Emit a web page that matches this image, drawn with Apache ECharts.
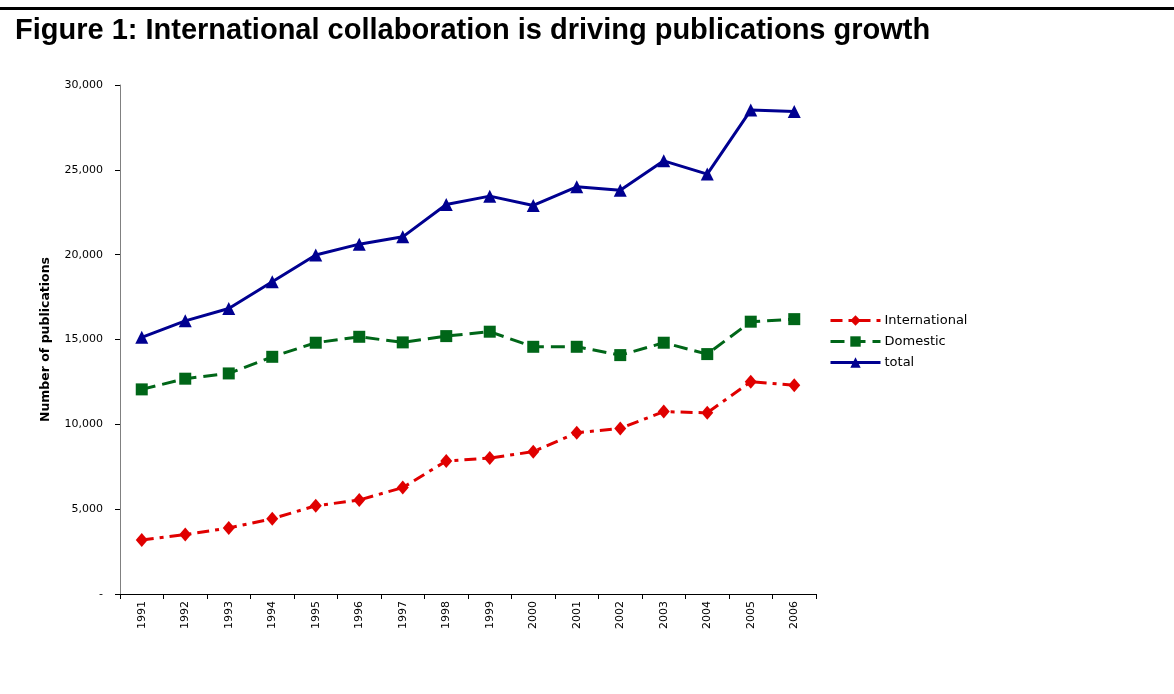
<!DOCTYPE html>
<html>
<head>
<meta charset="utf-8">
<script src="https://cdn.jsdelivr.net/npm/echarts@6/dist/echarts.min.js"></script>
<style>
html,body{margin:0;padding:0;background:#fff;}
#chart{width:1174px;height:694px;}
</style>
</head>
<body>
<div id="chart"></div>
<script>
const years = ['1991','1992','1993','1994','1995','1996','1997','1998','1999','2000','2001','2002','2003','2004','2005','2006'];
const international = [3180, 3500, 3890, 4440, 5200, 5540, 6270, 7840, 8010, 8390, 9500, 9760, 10750, 10680, 12510, 12300];
const domestic = [12060, 12690, 13000, 13980, 14810, 15160, 14830, 15200, 15460, 14570, 14570, 14080, 14810, 14140, 16050, 16200];
const total = [15130, 16100, 16830, 18400, 19980, 20620, 21050, 22960, 23450, 22900, 24000, 23800, 25530, 24750, 28520, 28440];
const yTicks = {min: 0, max: 30000, interval: 5000};

const chart = echarts.init(document.getElementById('chart'));
const titleFont = 'Liberation Sans, Arial, sans-serif';
const font = 'DejaVu Sans, Verdana, sans-serif';
chart.setOption({
  backgroundColor: '#fff',
  animation: false,
  title: {
    text: 'Figure 1: International collaboration is driving publications growth',
    left: 10, top: 11,
    textStyle: {fontFamily: titleFont, fontSize: 29, fontWeight: 'bold', color: '#000'}
  },
  graphic: [{
    type: 'line', shape: {x1: 0, y1: 8.5, x2: 1174, y2: 8.5},
    style: {stroke: '#000', lineWidth: 3}
  }],
  legend: {
    orient: 'vertical',
    left: 824, top: 309,
    itemWidth: 50, itemHeight: 13, itemGap: 8,
    lineStyle: {width: 3},
    textStyle: {fontFamily: font, fontSize: 13, color: '#000', padding: [0,0,0,-1]},
    data: ['International', 'Domestic', 'total']
  },
  grid: {left: 120, top: 85, right: 358, bottom: 100},
  xAxis: {
    type: 'category', data: years, boundaryGap: true,
    axisLine: {lineStyle: {color: '#000', width: 1}},
    axisTick: {show: true, alignWithLabel: false, length: 5, lineStyle: {color: '#000'}},
    axisLabel: {rotate: 90, fontFamily: font, fontSize: 11, color: '#000', margin: 7, interval: 0}
  },
  yAxis: {
    type: 'value', min: yTicks.min, max: yTicks.max, interval: yTicks.interval,
    name: 'Number of publications', nameLocation: 'middle', nameGap: 68, nameRotate: 90,
    nameTextStyle: {fontFamily: font, fontSize: 12.5, fontWeight: 'bold', color: '#000'},
    axisLine: {show: true, lineStyle: {color: '#808080', width: 1}},
    axisTick: {show: true, length: 5, lineStyle: {color: '#000'}},
    splitLine: {show: false},
    axisLabel: {fontFamily: font, fontSize: 11, color: '#000', margin: 17,
      formatter: v => v === 0 ? '-' : v.toLocaleString('en-US')}
  },
  series: [
    {
      name: 'International', type: 'line', data: international,
      symbol: 'diamond', symbolSize: [12, 14],
      itemStyle: {color: '#e00000'},
      lineStyle: {color: '#e00000', width: 3, type: [12, 6, 4, 6]}
    },
    {
      name: 'Domestic', type: 'line', data: domestic,
      symbol: 'rect', symbolSize: 12,
      itemStyle: {color: '#006618'},
      lineStyle: {color: '#006618', width: 3, type: [14, 7]}
    },
    {
      name: 'total', type: 'line', data: total,
      symbol: 'triangle', symbolSize: 13,
      itemStyle: {color: '#000090'},
      lineStyle: {color: '#000090', width: 3}
    }
  ]
});
</script>
</body>
</html>
